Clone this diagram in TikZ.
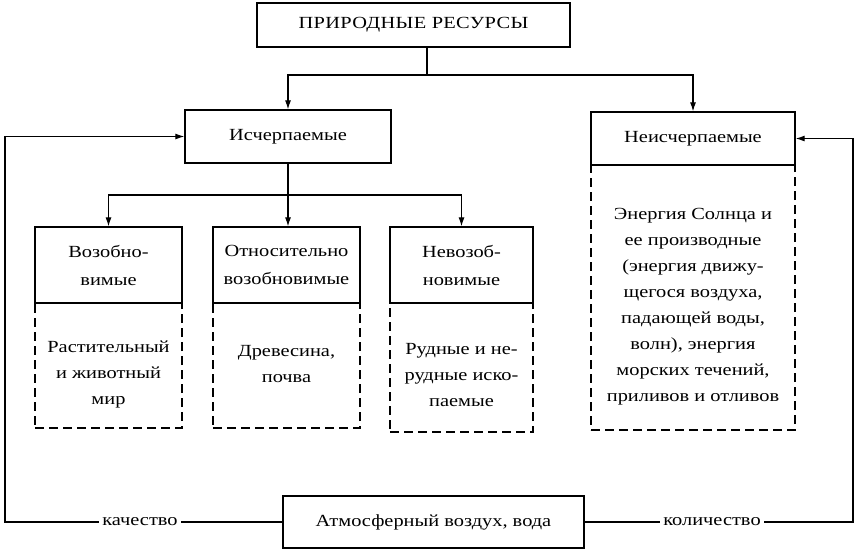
\documentclass[tikz,border=0pt]{standalone}
\usepackage{fontspec}
\setmainfont{Liberation Serif}[FakeStretch=1.2]
\usetikzlibrary{arrows.meta}
\begin{document}
\begin{tikzpicture}[x=1pt,y=-1pt]
\tikzset{
 box/.style={draw=black, line width=1.3pt, inner sep=0pt, align=center, font=\fontsize{17}{28}\selectfont},
 dbox/.style={draw=black, line width=1.1pt, dash pattern=on 9pt off 5pt, inner sep=0pt},
 dtext/.style={inner sep=0pt, align=center, font=\fontsize{17}{26}\selectfont},
 conn/.style={line width=1.1pt},
 arr/.style={conn, -{Latex[length=9pt,width=6pt]}},
 lbl/.style={fill=white, inner sep=3pt, font=\fontsize{17}{18}\selectfont}
}
\fill[white] (0,0) rectangle (856,550);
\useasboundingbox (0,0) rectangle (856,550);

\node[box, minimum width=313pt, minimum height=44pt, font=\fontsize{17}{18}\selectfont\addfontfeature{LetterSpace=2}] (top) at (413.5,25) {ПРИРОДНЫЕ РЕСУРСЫ};
\node[box, minimum width=206pt, minimum height=53pt] (isch) at (288,136.5) {Исчерпаемые};

\node[dbox, minimum width=204pt, minimum height=265pt] (dn) at (693,297.5) {};
\node[dtext] (tn) at ([yshift=-9pt]dn.center) {Энергия Солнца и\\ее производные\\(энергия движу-\\щегося воздуха,\\падающей воды,\\волн), энергия\\морских течений,\\приливов и отливов};
\node[box, minimum width=204pt, minimum height=53pt] (neisch) at (693,138.5) {Неисчерпаемые};

\node[dbox, minimum width=147pt, minimum height=125pt] (d1) at (108.5,365.5) {};
\node[dtext] (t1) at ([yshift=-9pt]d1.center) {Растительный\\и животный\\мир};
\node[box, minimum width=147pt, minimum height=76pt] (b1) at (108.5,265) {Возобно-\\вимые};

\node[dbox, minimum width=147pt, minimum height=125pt] (d2) at (286.5,365.5) {};
\node[dtext] (t2) at ([yshift=1pt]d2.center) {Древесина,\\почва};
\node[box, minimum width=147pt, minimum height=76pt] (b2) at (286.5,265) {Относительно\\возобновимые};

\node[dbox, minimum width=143pt, minimum height=129pt] (d3) at (461.5,367.5) {};
\node[dtext] (t3) at ([yshift=-8pt]d3.center) {Рудные и не-\\рудные иско-\\паемые};
\node[box, minimum width=143pt, minimum height=76pt] (b3) at (461.5,265) {Невозоб-\\новимые};

\node[box, minimum width=301pt, minimum height=52pt] (air) at (433.5,522) {Атмосферный воздух, вода};

\coordinate (tj) at (427,75);
\draw[conn] (top.south -| tj) -- (tj);
\draw[arr] (tj) -| (isch.north);
\draw[arr] (tj) -| (neisch.north);

\coordinate (mj) at (288,195);
\draw[conn] (isch.south -| mj) -- (mj);
\draw[arr] (mj) -| (b1.north);
\draw[arr] (mj) -- (mj |- b2.north);
\draw[arr] (mj) -| (b3.north);

\coordinate (lc) at (5,522);
\coordinate (rc) at (853,522);
\draw[arr] (air.west) -- (lc) |- (isch.west);
\draw[arr] (air.east) -- (rc) |- (neisch.east);
\node[lbl] (kach) at (140,522) {качество};
\node[lbl] (kol) at (712,522) {количество};
\end{tikzpicture}
\end{document}
